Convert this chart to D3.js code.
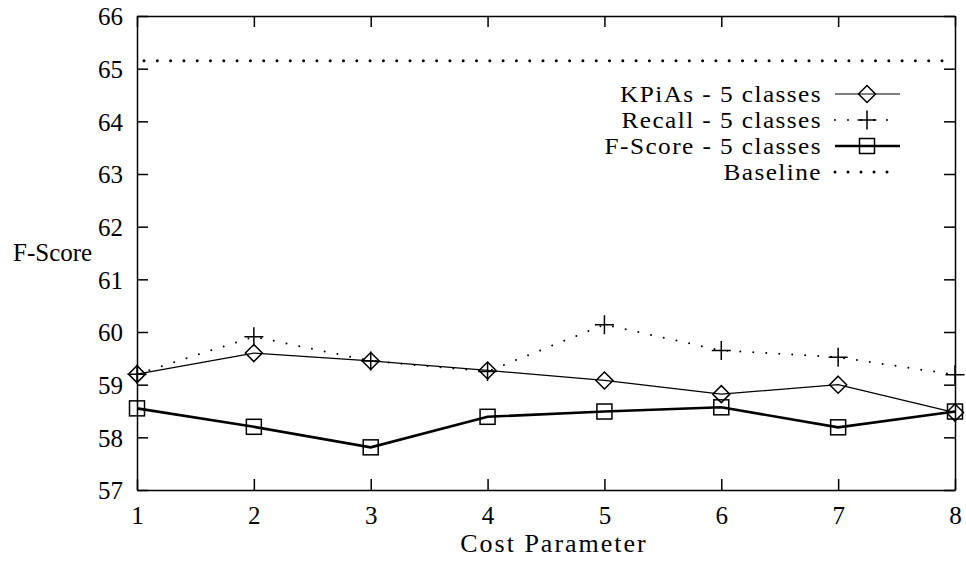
<!DOCTYPE html>
<html>
<head>
<meta charset="utf-8">
<script src="https://cdn.jsdelivr.net/npm/d3@7"></script>
<style>
  body { margin: 0; background: #fff; }
  svg { display: block; }
  text { font-family: "Liberation Serif", "DejaVu Serif", serif; fill: #000; }
  .axis path, .axis line { stroke: #000; stroke-width: 1.5; }
  .axis text { font-size: 25px; }
</style>
</head>
<body>
<div id="chart"></div>
<script>
// data
var costParams = [1, 2, 3, 4, 5, 6, 7, 8];
var kpias = [59.2, 59.6, 59.45, 59.27, 59.08, 58.82, 59.0, 58.47];
var recall = [59.2, 59.91, 59.45, 59.25, 60.14, 59.65, 59.52, 59.19];
var fscore = [58.55, 58.2, 57.81, 58.39, 58.49, 58.57, 58.19, 58.49];
var baseline = 65.15;
var yTicks = [57, 58, 59, 60, 61, 62, 63, 64, 65, 66];
var legendLabels = ["KPiAs - 5 classes", "Recall - 5 classes", "F-Score - 5 classes", "Baseline"];

var margin = {top: 16, right: 11, bottom: 78, left: 137},
	width = 966 - margin.left - margin.right,
	height = 568 - margin.top - margin.bottom;

var x = d3.scaleLinear().domain([1, 8]).range([0, width]);
var y = d3.scaleLinear().domain([57, 66]).range([height, 0]);

var svg = d3.select("#chart").append("svg")
	.attr("width", 966)
	.attr("height", 568)
	.append("g")
	.attr("transform", "translate(" + margin.left + "," + margin.top + ")");

// axes, ticks pointing inward on all four sides
var xAxisG = svg.append("g")
	.attr("class", "axis")
	.attr("transform", "translate(0," + height + ")")
	.call(d3.axisBottom(x).tickValues(costParams).tickFormat(d3.format("d"))
		.tickSizeInner(-11).tickSizeOuter(0).tickPadding(16));
xAxisG.selectAll("text").attr("dy", "0.71em");

svg.append("g")
	.attr("class", "axis")
	.call(d3.axisTop(x).tickValues(costParams).tickFormat("")
		.tickSizeInner(-11).tickSizeOuter(0));

var yAxisG = svg.append("g")
	.attr("class", "axis")
	.call(d3.axisLeft(y).tickValues(yTicks).tickFormat(d3.format("d"))
		.tickSizeInner(-11).tickSizeOuter(0).tickPadding(14));
yAxisG.selectAll("text").attr("dy", "0.35em");

svg.append("g")
	.attr("class", "axis")
	.attr("transform", "translate(" + width + ",0)")
	.call(d3.axisRight(y).tickValues(yTicks).tickFormat("")
		.tickSizeInner(-11).tickSizeOuter(0));

// axis titles
svg.append("text")
	.attr("x", width / 2 + 8)
	.attr("y", height + 62)
	.attr("text-anchor", "middle")
	.style("font-size", "26px")
	.style("letter-spacing", "2px")
	.text("Cost Parameter");

svg.append("text")
	.attr("x", -margin.left + 13)
	.attr("y", y(61.5) + 8)
	.style("font-size", "25px")
	.text("F-Score");

var line = d3.line()
	.x(function(d, i) { return x(costParams[i]); })
	.y(function(d) { return y(d); });

// baseline
svg.append("line")
	.attr("x1", x(1) + 7).attr("x2", x(8))
	.attr("y1", y(baseline)).attr("y2", y(baseline))
	.attr("stroke", "#000").attr("stroke-width", 3)
	.attr("stroke-linecap", "round")
	.attr("stroke-dasharray", "0,13.3");

// recall dotted
svg.append("path")
	.datum(recall)
	.attr("fill", "none").attr("stroke", "#000")
	.attr("stroke-width", 2).attr("stroke-linecap", "round")
	.attr("stroke-dasharray", "0,13")
	.attr("d", line);

// kpias thin
svg.append("path")
	.datum(kpias)
	.attr("fill", "none").attr("stroke", "#000").attr("stroke-width", 1.2)
	.attr("d", line);

// fscore thick
svg.append("path")
	.datum(fscore)
	.attr("fill", "none").attr("stroke", "#000").attr("stroke-width", 2.6)
	.attr("d", line);

function diamond(g, cx, cy) {
	var r = 8.5;
	g.append("path")
		.attr("d", "M" + cx + "," + (cy - r) + "L" + (cx + r) + "," + cy + "L" + cx + "," + (cy + r) + "L" + (cx - r) + "," + cy + "Z")
		.attr("fill", "none").attr("stroke", "#000").attr("stroke-width", 1.5);
}
function plus(g, cx, cy) {
	var r = 9.5;
	g.append("path")
		.attr("d", "M" + (cx - r) + "," + cy + "H" + (cx + r) + "M" + cx + "," + (cy - r) + "V" + (cy + r))
		.attr("fill", "none").attr("stroke", "#000").attr("stroke-width", 1.5);
}
function square(g, cx, cy) {
	var r = 7.5;
	g.append("rect")
		.attr("x", cx - r).attr("y", cy - r).attr("width", 2 * r).attr("height", 2 * r)
		.attr("fill", "none").attr("stroke", "#000").attr("stroke-width", 1.5);
}

var marks = svg.append("g");
kpias.forEach(function(d, i) { diamond(marks, x(costParams[i]), y(d)); });
recall.forEach(function(d, i) { plus(marks, x(costParams[i]), y(d)); });
fscore.forEach(function(d, i) { square(marks, x(costParams[i]), y(d)); });

// legend
var legend = svg.append("g").attr("transform", "translate(" + (width - 133) + ",78)");
var rowH = 26;
legendLabels.forEach(function(label, i) {
	legend.append("g")
		.attr("transform", "translate(0," + (i * rowH) + ") scale(1.1,1)")
		.append("text")
		.attr("dy", "0.33em")
		.attr("text-anchor", "end")
		.style("font-size", "23px")
		.style("letter-spacing", "1.3px")
		.text(label);
});
var lx1 = 13, lx2 = 78, lm = 45;
legend.append("line").attr("x1", lx1).attr("x2", lx2).attr("y1", 0).attr("y2", 0)
	.attr("stroke", "#000").attr("stroke-width", 1.2);
diamond(legend, lm, 0);
legend.append("line").attr("x1", lx1).attr("x2", lx2).attr("y1", rowH).attr("y2", rowH)
	.attr("stroke", "#000").attr("stroke-width", 2).attr("stroke-linecap", "round")
	.attr("stroke-dasharray", "0,13");
plus(legend, lm, rowH);
legend.append("line").attr("x1", lx1).attr("x2", lx2).attr("y1", 2 * rowH).attr("y2", 2 * rowH)
	.attr("stroke", "#000").attr("stroke-width", 2.6);
square(legend, lm, 2 * rowH);
legend.append("line").attr("x1", lx1).attr("x2", lx2).attr("y1", 3 * rowH).attr("y2", 3 * rowH)
	.attr("stroke", "#000").attr("stroke-width", 3).attr("stroke-linecap", "round")
	.attr("stroke-dasharray", "0,13");
</script>
</body>
</html>
